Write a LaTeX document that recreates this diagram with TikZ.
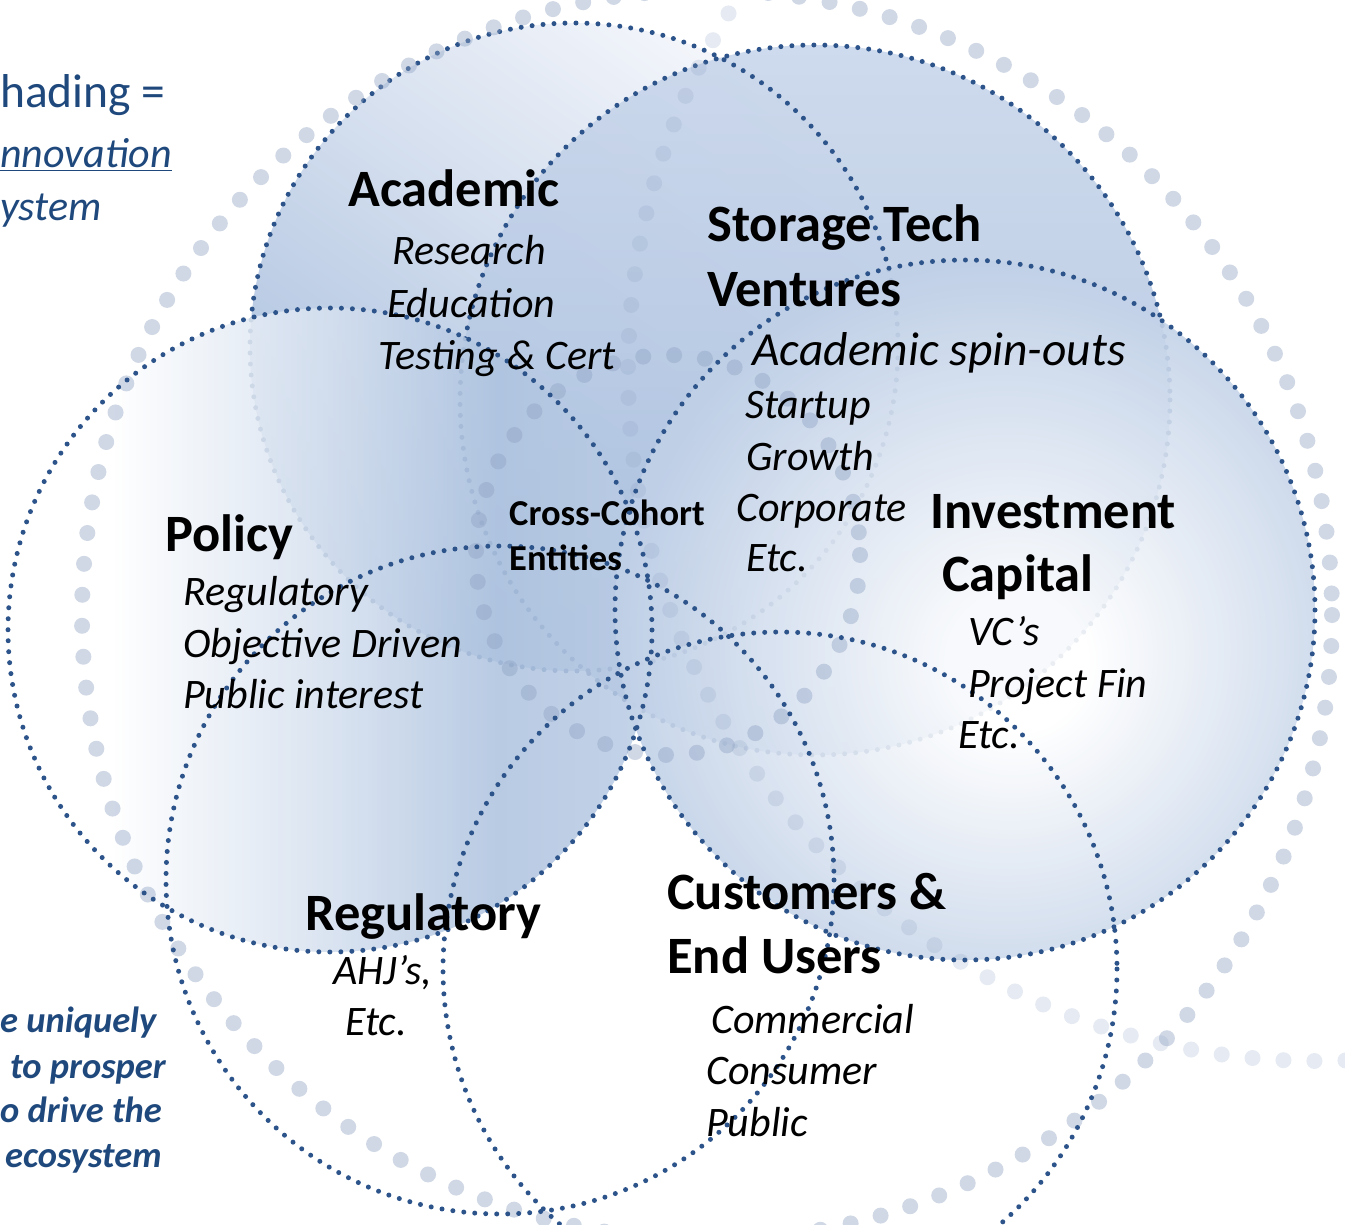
\documentclass[tikz,border=0pt]{standalone}
\usepackage{fontspec}
\setmainfont{Carlito}
\definecolor{dotc}{RGB}{45,84,138}
\definecolor{gdotc}{RGB}{143,163,196}
\definecolor{txtblue}{RGB}{31,73,125}
\definecolor{bA1}{RGB}{244,246,251}
\definecolor{bA2}{RGB}{165,188,220}
\definecolor{bS1}{RGB}{198,212,234}
\definecolor{bS2}{RGB}{162,186,219}
\definecolor{bP2}{RGB}{213,224,239}
\definecolor{bP3}{RGB}{175,196,224}
\definecolor{bP4}{RGB}{188,205,229}
\definecolor{bI2}{RGB}{192,208,231}
\pgfdeclareradialshading{siShade}{\pgfpoint{4bp}{-4bp}}{color(0bp)=(white); color(5bp)=(white); color(27bp)=(bI2); color(60bp)=(bI2)}
\pgfdeclarehorizontalshading{spShade}{100bp}{color(0bp)=(white); color(33bp)=(white); color(50bp)=(bP2); color(63bp)=(bP3); color(75bp)=(bP4); color(100bp)=(bP4)}
\tikzset{
  ddot/.style={draw=dotc, line width=5pt, dash pattern=on 0pt off 11pt, line cap=round},
  gdot/.style={draw=gdotc, line width=16pt, dash pattern=on 0pt off 31pt, line cap=round, draw opacity=0.42},
  gdotl/.style={gdot, draw opacity=0.22},
  lbl/.style={font=\fontsize{52.5}{60}\selectfont\bfseries, anchor=base west, inner sep=0pt},
  itl/.style={font=\fontsize{42}{50}\selectfont\itshape, anchor=base west, inner sep=0pt},
  itlb/.style={font=\fontsize{47.5}{54}\selectfont\itshape, anchor=base west, inner sep=0pt},
  midl/.style={font=\fontsize{36.5}{44}\selectfont\bfseries, anchor=base west, inner sep=0pt},
  blA/.style={font=\fontsize{47.5}{54}\selectfont, text=txtblue, anchor=base west, inner sep=0pt},
  blB/.style={font=\fontsize{42}{50}\selectfont\itshape, text=txtblue, anchor=base west, inner sep=0pt},
  blC/.style={font=\fontsize{36.5}{42}\selectfont\bfseries\itshape, text=txtblue, anchor=base west, inner sep=0pt}
}
\begin{document}
\begin{tikzpicture}[x=1pt,y=-1pt]
\useasboundingbox (0,0) rectangle (1345,1225);
\clip (0,0) rectangle (1345,1225);
\fill[white] (0,0) rectangle (1345,1225);
% shaded shapes
\shade[top color=bA1, bottom color=bA2, shading angle=-35] (574,347) circle[radius=324];
\shade[top color=bS1, bottom color=bS2, fill opacity=0.85] (815,400) circle[radius=355];
\draw[ddot] (574,347) circle[radius=324];
\draw[ddot] (815,400) circle[radius=355];
\shade[shading=spShade, fill opacity=0.88] (330,630) circle[radius=322];
\shade[shading=siShade, fill opacity=0.9] (965,610) circle[radius=350];
% large grey dots
\draw[gdot] (707,615) circle[radius=625];
\draw[gdotl] (1317,372) circle[radius=689];
\draw[gdot] (668,555) ellipse[x radius=192, y radius=200];
% dotted outlines
\draw[ddot] (330,630) circle[radius=322];
\draw[ddot] (965,610) circle[radius=350];
\draw[ddot] (500,880) circle[radius=334];
\draw[ddot] (780,969) circle[radius=337];
% labels
\node[lbl] (acad) at (348,207) {Academic};
\node[itl] (res) at (392,265) {Research};
\node[itl] (edu) at (387,317) {Education};
\node[itl] (tst) at (378,369) {Testing \& Cert};
\node[lbl] (st1) at (707,242) {Storage Tech};
\node[lbl] (st2) at (707,306) {Ventures};
\node[itlb] (sp1) at (752,365) {Academic spin-outs};
\node[itl] (sp2) at (745,418) {Startup};
\node[itl] (sp3) at (746,470) {Growth};
\node[itl] (sp4) at (736,521) {Corporate};
\node[itl] (sp5) at (746,571) {Etc.};
\node[midl] (cc1) at (509,525) {Cross-Cohort};
\node[midl] (cc2) at (509,570) {Entities};
\node[lbl] (pol) at (165,551) {Policy};
\node[itl] (po1) at (183,605) {Regulatory};
\node[itl] (po2) at (183,657) {Objective Driven};
\node[itl] (po3) at (183,708) {Public interest};
\node[lbl] (inv1) at (930,528) {Investment};
\node[lbl] (inv2) at (942,591) {Capital};
\node[itl] (iv1) at (968,645) {VC’s};
\node[itl] (iv2) at (968,697) {Project Fin};
\node[itl] (iv3) at (958,748) {Etc.};
\node[lbl] (reg) at (305,930) {Regulatory};
\node[itl] (rg1) at (333,984) {AHJ’s,};
\node[itl] (rg2) at (345,1035) {Etc.};
\node[lbl] (cu1) at (667,909) {Customers \&};
\node[lbl] (cu2) at (667,973) {End Users};
\node[itl] (cu3) at (711,1033) {Commercial};
\node[itl] (cu4) at (706,1084) {Consumer};
\node[itl] (cu5) at (706,1136) {Public};
% left blue texts
\node[blA] (b1) at (0,108) {hading =};
\node[blB] (b2) at (0,168) {\underline{nnovation}};
\node[blB] (b3) at (0,221) {ystem};
\node[blC] (b4) at (0,1032) {e uniquely};
\node[blC] (b5) at (10,1078) {to prosper};
\node[blC] (b6) at (0,1122) {o drive the};
\node[blC] (b7) at (5,1167) {ecosystem};
\end{tikzpicture}
\end{document}
